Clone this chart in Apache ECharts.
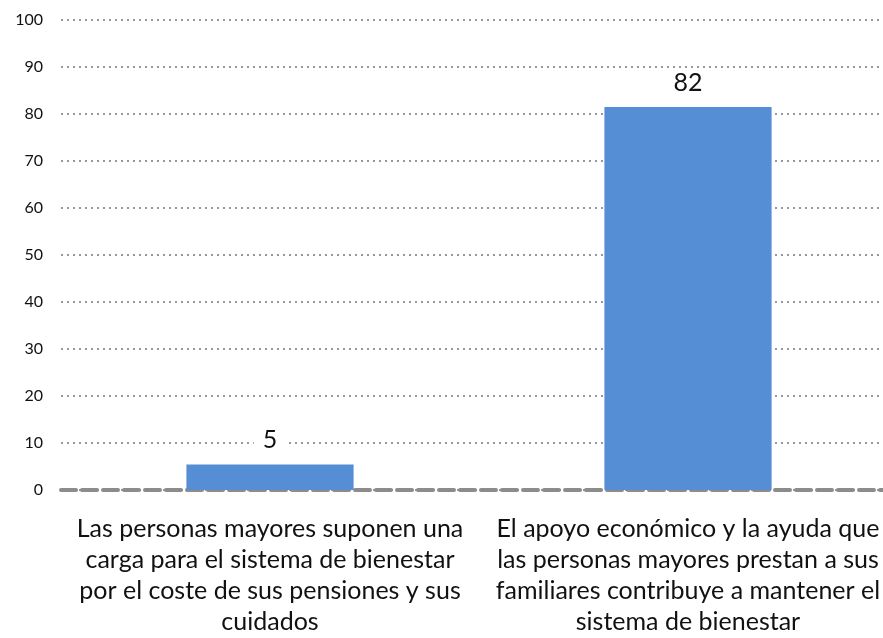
<!DOCTYPE html>
<html>
<head>
<meta charset="utf-8">
<script src="https://cdn.jsdelivr.net/npm/echarts@6/dist/echarts.min.js"></script>
<style>
  html, body { margin: 0; padding: 0; background: #fff; }
  #chart { width: 883px; height: 638px; }
</style>
</head>
<body>
<div id="chart"></div>
<script>
const categories = [
  'Las personas mayores suponen una\ncarga para el sistema de bienestar\npor el coste de sus pensiones y sus\ncuidados',
  'El apoyo económico y la ayuda que\nlas personas mayores prestan a sus\nfamiliares contribuye a mantener el\nsistema de bienestar'
];
const values = [5.4, 81.5];
const yTicks = [0, 10, 20, 30, 40, 50, 60, 70, 80, 90, 100];

let myChart = echarts.init(document.getElementById('chart'));
let option = {
  animation: false,
  textStyle: { fontFamily: 'Lato, "Open Sans", sans-serif' },
  grid: {
    left: 61, width: 836, top: 20, height: 470,
    outerBoundsMode: 'none',
    containLabel: false
  },
  xAxis: {
    type: 'category',
    data: categories,
    axisTick: { show: false },
    axisLine: {
      show: true,
      lineStyle: { color: '#8c8c8c', width: 4, type: [15, 6] }
    },
    axisLabel: {
      color: '#111',
      fontSize: 25,
      lineHeight: 31,
      margin: 23,
      interval: 0
    }
  },
  yAxis: {
    type: 'value',
    min: yTicks[0],
    max: yTicks[yTicks.length - 1],
    interval: 10,
    axisLine: { show: false },
    axisTick: { show: false },
    axisLabel: { color: '#111', fontSize: 16, margin: 18 },
    splitLine: {
      lineStyle: { color: '#999', width: 2, type: [2, 4] }
    }
  },
  series: [{
    type: 'bar',
    data: values,
    barWidth: '40%',
    itemStyle: { color: '#558ED5' },
    label: {
      show: true,
      position: 'top',
      distance: 12,
      color: '#111',
      fontSize: 25,
      backgroundColor: '#fff',
      padding: [0, 9],
      formatter: p => Math.round(p.value)
    }
  }]
};
myChart.setOption(option);
</script>
</body>
</html>
